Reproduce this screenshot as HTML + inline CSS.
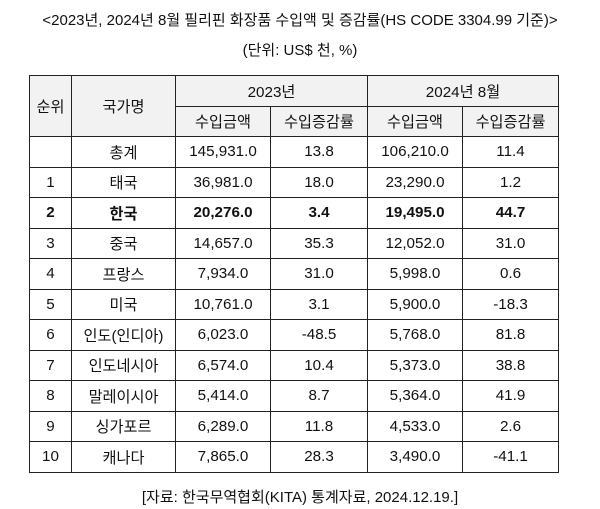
<!DOCTYPE html>
<html><head><meta charset="utf-8"><style>
body{margin:0;width:600px;height:509px;background:#fff;font-family:"Liberation Sans","Noto Sans CJK KR",sans-serif;color:#111;position:relative;overflow:hidden}
.t{position:absolute;left:0;width:600px;text-align:center;font-size:15px}
table{position:absolute;left:29px;top:75px;border-collapse:collapse;font-size:15.2px;table-layout:fixed}
td{border:1.5px solid #222;text-align:center;padding:0;height:29.5px;white-space:nowrap}
.h td{background:#f2f2f2}
</style></head><body>
<div class="t" style="top:9px">&lt;2023년, 2024년 8월 필리핀 화장품 수입액 및 증감률(HS CODE 3304.99 기준)&gt;</div>
<div class="t" style="top:39px">(단위: US$ 천, %)</div>
<table>
<colgroup><col style="width:42px"><col style="width:104px"><col style="width:95px"><col style="width:97px"><col style="width:95px"><col style="width:96px"></colgroup>
<tr class="h"><td rowspan="2">순위</td><td rowspan="2">국가명</td><td colspan="2" style="height:29px">2023년</td><td colspan="2">2024년 8월</td></tr>
<tr class="h"><td style="height:29px">수입금액</td><td>수입증감률</td><td>수입금액</td><td>수입증감률</td></tr>
<tr><td></td><td>총계</td><td>145,931.0</td><td>13.8</td><td>106,210.0</td><td>11.4</td></tr>
<tr><td>1</td><td>태국</td><td>36,981.0</td><td>18.0</td><td>23,290.0</td><td>1.2</td></tr>
<tr style="font-weight:bold"><td>2</td><td>한국</td><td>20,276.0</td><td>3.4</td><td>19,495.0</td><td>44.7</td></tr>
<tr><td>3</td><td>중국</td><td>14,657.0</td><td>35.3</td><td>12,052.0</td><td>31.0</td></tr>
<tr><td>4</td><td>프랑스</td><td>7,934.0</td><td>31.0</td><td>5,998.0</td><td>0.6</td></tr>
<tr><td>5</td><td>미국</td><td>10,761.0</td><td>3.1</td><td>5,900.0</td><td>-18.3</td></tr>
<tr><td>6</td><td>인도(인디아)</td><td>6,023.0</td><td>-48.5</td><td>5,768.0</td><td>81.8</td></tr>
<tr><td>7</td><td>인도네시아</td><td>6,574.0</td><td>10.4</td><td>5,373.0</td><td>38.8</td></tr>
<tr><td>8</td><td>말레이시아</td><td>5,414.0</td><td>8.7</td><td>5,364.0</td><td>41.9</td></tr>
<tr><td>9</td><td>싱가포르</td><td>6,289.0</td><td>11.8</td><td>4,533.0</td><td>2.6</td></tr>
<tr><td>10</td><td>캐나다</td><td>7,865.0</td><td>28.3</td><td>3,490.0</td><td>-41.1</td></tr>
</table>
<div class="t" style="top:486px">[자료: 한국무역협회(KITA) 통계자료, 2024.12.19.]</div>
</body></html>
